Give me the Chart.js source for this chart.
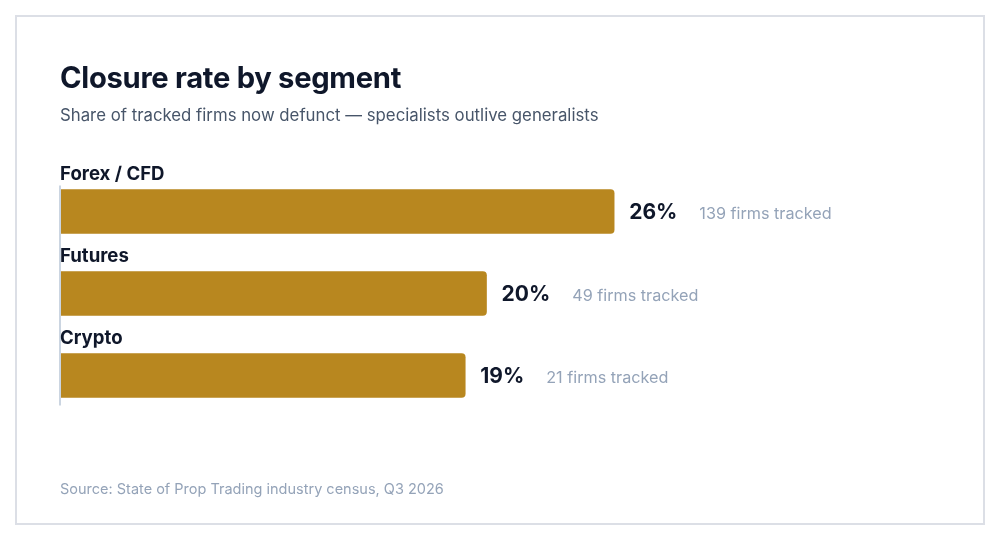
<!DOCTYPE html>
<html>
<head>
<meta charset="utf-8">
<script src="https://cdn.jsdelivr.net/npm/chart.js@4"></script>
<style>
  html, body { margin: 0; padding: 0; background: #fff; }
  body { width: 1000px; height: 540px; position: relative; overflow: hidden; font-family: Inter, "Noto Sans", sans-serif; }
  #card { position: absolute; left: 15px; top: 15px; width: 970px; height: 510px; box-sizing: border-box; border: 2px solid #dcdfe6; }
  #chart { position: absolute; left: 0; top: 0; }
  .title { position: absolute; left: 60px; top: 60px; font-size: 29.2px; font-weight: 700; color: #0f172a; letter-spacing: -0.3px; }
  .subtitle { position: absolute; left: 60px; top: 105px; font-size: 16.8px; color: #475569; }
  .source { position: absolute; left: 60px; top: 480px; font-size: 14.5px; color: #94a3b8; }
</style>
</head>
<body>
<div id="card"></div>
<canvas id="chart" width="1000" height="540"></canvas>
<div class="title">Closure rate by segment</div>
<div class="subtitle">Share of tracked firms now defunct — specialists outlive generalists</div>
<div class="source">Source: State of Prop Trading industry census, Q3 2026</div>
<script>
const segments = ["Forex / CFD", "Futures", "Crypto"];
const closureRate = [26, 20, 19];
const firmsTracked = [139, 49, 21];

// Labels above each bar, value + count to the right, and the thin left rule
const annotate = {
  id: "annotate",
  afterDatasetsDraw(chart) {
    const { ctx } = chart;
    const bars = chart.getDatasetMeta(0).data;
    ctx.save();

    const first = bars[0], last = bars[bars.length - 1];
    ctx.fillStyle = "#cbd5e1";
    ctx.fillRect(59, first.y - first.height / 2 - 4, 2, (last.y + last.height / 2 + 8) - (first.y - first.height / 2 - 4));

    bars.forEach((bar, i) => {
      const top = bar.y - bar.height / 2;
      ctx.textBaseline = "alphabetic";
      ctx.textAlign = "left";

      ctx.font = "700 18.6px Inter, sans-serif";
      ctx.fillStyle = "#0f172a";
      ctx.fillText(segments[i], 60, top - 10);

      ctx.font = "700 21px Inter, sans-serif";
      const val = closureRate[i] + "%";
      ctx.fillText(val, bar.x + 15, bar.y + 7.5);
      const w = ctx.measureText(val).width;

      ctx.font = "400 16.2px Inter, sans-serif";
      ctx.fillStyle = "#94a3b8";
      ctx.fillText(firmsTracked[i] + " firms tracked", bar.x + 15 + w + 22, bar.y + 7.5);
    });
    ctx.restore();
  },
};

new Chart(document.getElementById("chart"), {
  type: "bar",
  data: {
    labels: segments,
    datasets: [{
      data: closureRate,
      backgroundColor: "#b8871f",
      barThickness: 44,
      borderRadius: { topRight: 4, bottomRight: 4, topLeft: 0, bottomLeft: 0 },
      borderSkipped: false,
    }],
  },
  options: {
    indexAxis: "y",
    responsive: false,
    animation: false,
    layout: { padding: { left: 61, top: 170.5, right: 88, bottom: 123.5 } },
    plugins: { legend: { display: false }, tooltip: { enabled: false } },
    scales: {
      x: { display: false, min: 0, max: 40 },
      y: { display: false, offset: true },
    },
  },
  plugins: [annotate],
});
</script>
</body>
</html>
